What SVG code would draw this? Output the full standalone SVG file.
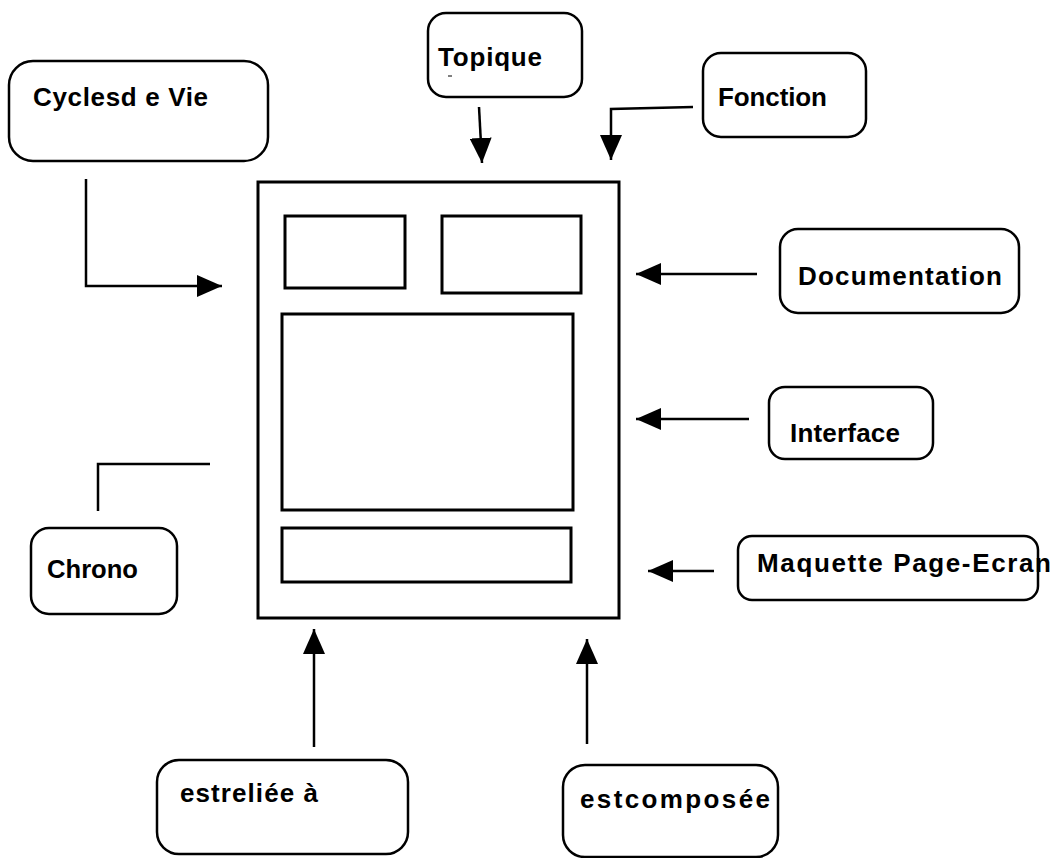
<svg xmlns="http://www.w3.org/2000/svg" width="1053" height="858" viewBox="0 0 1053 858">
<style>
.box{fill:#fff;stroke:#000;stroke-width:2.5}
.frame{fill:none;stroke:#000;stroke-width:3}
.lbl{font-family:"Liberation Sans",Arial,sans-serif;font-weight:bold;font-size:26px;fill:#000}
.con{fill:none;stroke:#000;stroke-width:2.5}
</style>
<defs>
<marker id="ah" markerUnits="userSpaceOnUse" markerWidth="26" markerHeight="22" refX="25" refY="11" orient="auto">
<path d="M0,0 L25,11 L0,22 z" fill="#000"/>
</marker>
</defs>
<rect width="1053" height="858" fill="#fff"/>

<g id="page">
<rect class="frame" x="258" y="182" width="361" height="436"/>
<rect class="frame" x="285" y="216" width="120" height="72"/>
<rect class="frame" x="442" y="216" width="139" height="77"/>
<rect class="frame" x="282" y="314" width="291" height="196"/>
<rect class="frame" x="282" y="528" width="289" height="54"/>
</g>

<g id="cycles">
<rect class="box" x="9" y="61" width="259" height="100" rx="24"/>
<text class="lbl" x="33" y="106" textLength="175" lengthAdjust="spacing">Cyclesd e Vie</text>
</g>

<g id="topique">
<rect class="box" x="428" y="13" width="154" height="84" rx="18"/>
<text class="lbl" x="438" y="66" textLength="104" lengthAdjust="spacing">Topique</text>
<line x1="448" y1="76" x2="452" y2="76" stroke="#000" stroke-width="1"/>
</g>

<g id="fonction">
<rect class="box" x="703" y="53" width="163" height="84" rx="18"/>
<text class="lbl" x="718" y="106" textLength="109" lengthAdjust="spacing">Fonction</text>
</g>

<g id="documentation">
<rect class="box" x="780" y="229" width="239" height="84" rx="18"/>
<text class="lbl" x="798" y="285" textLength="204" lengthAdjust="spacing">Documentation</text>
</g>

<g id="interface">
<rect class="box" x="769" y="387" width="164" height="72" rx="16"/>
<text class="lbl" x="790" y="442" textLength="110" lengthAdjust="spacing">Interface</text>
</g>

<g id="maquette">
<rect class="box" x="738" y="536" width="300" height="64" rx="14"/>
<text class="lbl" x="757" y="572" textLength="294" lengthAdjust="spacing">Maquette Page-Ecran</text>
</g>

<g id="chrono">
<rect class="box" x="31" y="528" width="146" height="86" rx="18"/>
<text class="lbl" x="47" y="578" textLength="91" lengthAdjust="spacingAndGlyphs">Chrono</text>
</g>

<g id="relie">
<rect class="box" x="157" y="760" width="251" height="94" rx="22"/>
<text class="lbl" x="180" y="802" textLength="138" lengthAdjust="spacing">estreliée à</text>
</g>

<g id="compose">
<rect class="box" x="563" y="765" width="215" height="92" rx="22"/>
<text class="lbl" x="580" y="808" textLength="190" lengthAdjust="spacing">estcomposée</text>
</g>

<g id="connectors">
<polyline class="con" points="86,179 86,286 222,286" marker-end="url(#ah)"/>
<line class="con" x1="479" y1="107" x2="482" y2="163" marker-end="url(#ah)"/>
<polyline class="con" points="693,107 611,109 611,160" marker-end="url(#ah)"/>
<line class="con" x1="757" y1="274" x2="636" y2="274" marker-end="url(#ah)"/>
<line class="con" x1="749" y1="419" x2="636" y2="419" marker-end="url(#ah)"/>
<line class="con" x1="714" y1="571" x2="648" y2="571" marker-end="url(#ah)"/>
<polyline class="con" points="98,511 98,464 210,464"/>
<line class="con" x1="314" y1="747" x2="314" y2="629" marker-end="url(#ah)"/>
<line class="con" x1="587" y1="744" x2="587" y2="639" marker-end="url(#ah)"/>
</g>
</svg>
